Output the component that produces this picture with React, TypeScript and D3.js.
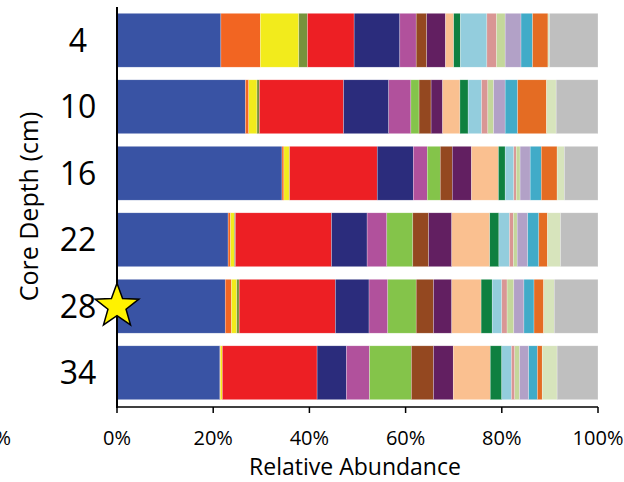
import React from "react";
import * as d3 from "d3";

// Core depths (cm), top to bottom
const depths = ["4", "10", "16", "22", "28", "34"];

// Taxon groups, in stacking order
const taxa = [
  "t01", "t02", "t03", "t04", "t05", "t06", "t07", "t08", "t09", "t10",
  "t11", "t12", "t13", "t14", "t15", "t16", "t17", "t18", "t19", "other",
];

const taxaColors = [
  "#3953A4", "#F26522", "#F2EB1C", "#77933C", "#ED1F24", "#2B2C7C",
  "#B1519C", "#84C44A", "#944820", "#621F61", "#FAC090", "#0F8040",
  "#93CDDD", "#D99694", "#C4D79B", "#B2A1C7", "#41ABC8", "#E46C23",
  "#D7E4BC", "#BFBFBF",
];

// Relative abundance (%) of each taxon at each depth
const abund4 = [21.6, 8.2, 8.0, 1.8, 9.7, 9.5, 3.4, 0, 2.2, 3.9, 1.7, 1.4, 5.5, 2.0, 1.8, 3.3, 2.4, 3.2, 0.3, 10.1];
const abund10 = [26.7, 0.7, 1.7, 0.5, 17.5, 9.4, 4.6, 1.7, 2.5, 2.4, 3.6, 1.7, 2.8, 1.3, 1.2, 2.4, 2.6, 6.0, 2.0, 8.7];
const abund16 = [34.3, 0.4, 1.1, 0.1, 18.2, 7.5, 2.9, 2.7, 2.5, 4.0, 5.6, 1.4, 1.8, 0.5, 0.8, 2.1, 2.3, 3.3, 1.5, 7.0];
const abund22 = [23.1, 0.5, 0.8, 0.2, 20.0, 7.4, 4.1, 5.4, 3.3, 4.8, 7.9, 1.9, 2.2, 0.8, 0.8, 2.2, 2.3, 1.8, 2.7, 7.8];
const abund28 = [22.5, 1.3, 1.1, 0.5, 20.0, 7.0, 3.9, 5.9, 3.6, 3.8, 6.1, 2.3, 2.0, 1.1, 1.4, 2.1, 2.1, 2.0, 2.2, 9.1];
const abund34 = [21.4, 0.1, 0.4, 0, 19.7, 6.1, 4.8, 8.7, 4.6, 4.1, 7.7, 2.4, 2.0, 0.7, 1.0, 1.9, 1.8, 1.0, 3.1, 8.5];

const abundances = [abund4, abund10, abund16, abund22, abund28, abund34];

const xTicks = [0, 0.2, 0.4, 0.6, 0.8, 1.0];

// Depth sample that is highlighted with a star
const starredDepth = "28";

const FONT = "'Open Sans', 'Noto Sans', sans-serif";

export default function App() {
  const width = 624;
  const height = 482;
  const x0 = 117;
  const x1 = 598;
  const yTop = 7;
  const yBottom = 406;
  const axisY = 407;

  const rows = depths.map((d, i) => {
    const r: Record<string, any> = { depth: d };
    taxa.forEach((t, j) => (r[t] = abundances[i][j]));
    return r;
  });

  const stacked = d3
    .stack<Record<string, any>>()
    .keys(taxa)
    .offset(d3.stackOffsetExpand)(rows);

  const x = d3.scaleLinear().domain([0, 1]).range([x0, x1]);
  const y = d3
    .scaleBand<string>()
    .domain(depths)
    .range([yTop, yBottom])
    .paddingInner(0.19)
    .paddingOuter(0.095);

  const color = d3.scaleOrdinal<string, string>().domain(taxa).range(taxaColors);
  const pct = d3.format(".0%");

  const starY = (y(starredDepth) ?? 0) + y.bandwidth() / 2;
  const starPath = (cx: number, cy: number, ro: number, ri: number) => {
    const pts: string[] = [];
    for (let k = 0; k < 10; k++) {
      const a = -Math.PI / 2 + (k * Math.PI) / 5;
      const r = k % 2 === 0 ? ro : ri;
      pts.push(`${cx + r * Math.cos(a)},${cy + r * Math.sin(a)}`);
    }
    return `M${pts.join("L")}Z`;
  };

  return (
    <svg
      width={width}
      height={height}
      style={{ position: "absolute", left: 0, top: 0, background: "#fff" }}
      fontFamily={FONT}
    >
      {stacked.map((layer) => (
        <g key={layer.key} fill={color(layer.key)}>
          {layer.map((seg, i) => {
            const w = x(seg[1]) - x(seg[0]);
            if (w <= 0) return null;
            return (
              <rect
                key={i}
                x={x(seg[0])}
                y={y(seg.data.depth as string)}
                width={w}
                height={y.bandwidth()}
                stroke="#fff"
                strokeWidth={0.5}
                strokeOpacity={0.5}
              />
            );
          })}
        </g>
      ))}

      {/* value axis */}
      <line x1={x0} x2={x1} y1={axisY} y2={axisY} stroke="#000" strokeWidth={1.5} />
      {xTicks.map((t) => (
        <g key={t}>
          <line x1={x(t)} x2={x(t)} y1={axisY} y2={axisY + 6} stroke="#000" strokeWidth={1.5} />
          <text x={x(t)} y={445} textAnchor="middle" fontSize={20} fill="#000">
            {pct(t)}
          </text>
        </g>
      ))}
      <text x={11} y={445} textAnchor="end" fontSize={20} fill="#000">
        0%
      </text>
      <text x={355} y={475} textAnchor="middle" fontSize={23} fill="#000">
        Relative Abundance
      </text>

      {/* depth axis */}
      <line x1={x0} x2={x0} y1={yTop} y2={axisY + 1} stroke="#000" strokeWidth={2} />
      {depths.map((d) => (
        <text
          key={d}
          x={78}
          y={(y(d) ?? 0) + y.bandwidth() / 2}
          dy="0.36em"
          textAnchor="middle"
          fontSize={32}
          fill="#000"
        >
          {d}
        </text>
      ))}
      <text
        transform={`translate(38,${(yTop + yBottom) / 2}) rotate(-90)`}
        textAnchor="middle"
        fontSize={25}
        fill="#000"
      >
        Core Depth (cm)
      </text>

      <path
        d={starPath(x0, starY, 23, 9.5)}
        fill="#FFF200"
        stroke="#000"
        strokeWidth={1.5}
        strokeLinejoin="miter"
      />
    </svg>
  );
}
